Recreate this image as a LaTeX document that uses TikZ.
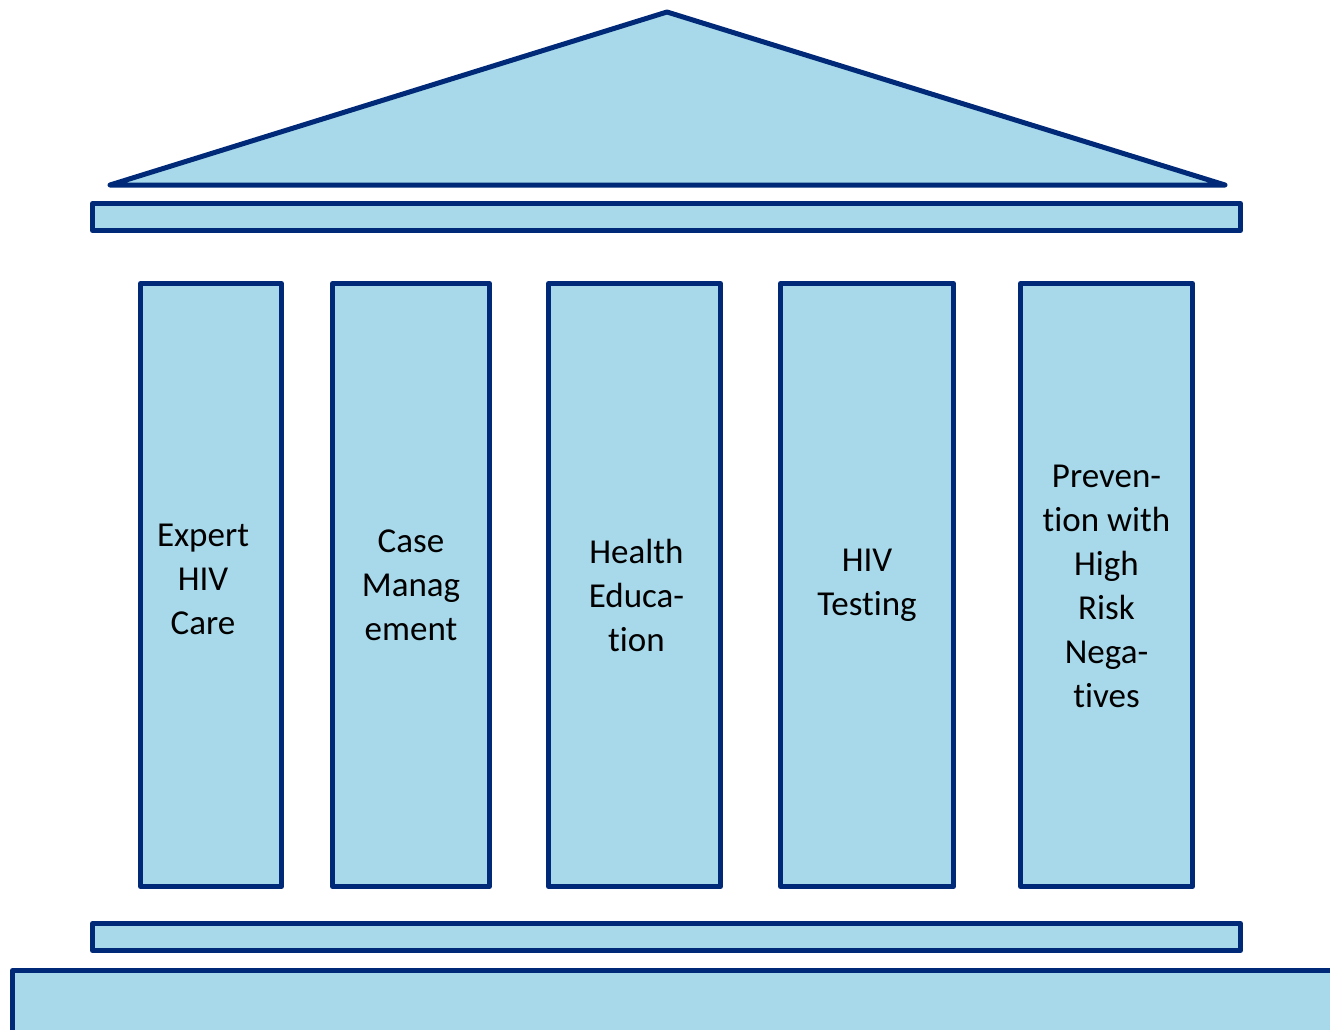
\documentclass[tikz,border=0pt]{standalone}
\usepackage{fontspec}
\setmainfont{Carlito}[Ligatures=NoCommon]
\definecolor{pillarfill}{HTML}{A7D9EA}
\definecolor{pillarline}{HTML}{002A78}
\tikzset{
  part/.style={fill=pillarfill, draw=pillarline, line width=5pt, line join=round},
  pillar/.style={part, rectangle, inner sep=0pt, minimum height=603pt},
  pillartext/.style={align=center, font=\fontsize{35}{44}\selectfont, text=black}
}
\begin{document}
\begin{tikzpicture}[x=1pt,y=-1pt]

    \useasboundingbox (0,0) rectangle (1330,1030);
    \clip (0,0) rectangle (1330,1030);

    % roof
    \coordinate (r0) at (110,185);
    \coordinate (r1) at (667,12);
    \coordinate (r2) at (1225,185);
    \filldraw[part] (r0) -- (r1) -- (r2) -- cycle;

    % beams and base
    \filldraw[part] (92.5,203.5) rectangle (1240.5,230.5);
    \filldraw[part] (92.5,923.5) rectangle (1240.5,950.5);
    \filldraw[part] (12.5,970.5) rectangle (1345,1045);

    % the five pillars
    \node[pillar, minimum width=141pt] (col1) at (211,585) {};
    \node[pillar, minimum width=157pt] (col2) at (411,585) {};
    \node[pillar, minimum width=172pt] (col3) at (634.5,585) {};
    \node[pillar, minimum width=173pt] (col4) at (867,585) {};
    \node[pillar, minimum width=172pt] (col5) at (1106.5,585) {};

    \node[pillartext] (t1) at ([xshift=-8pt,yshift=6pt]col1.center) {Expert\\HIV\\Care};
    \node[pillartext] (t2) at (col2.center) {Case\\Manag\\ement};
    \node[pillartext] (t3) at ([xshift=2pt,yshift=-10pt]col3.center) {Health\\Educa-\\tion};
    \node[pillartext] (t4) at (col4.center) {HIV\\Testing};
    \node[pillartext] (t5) at ([yshift=-1pt]col5.center) {Preven-\\tion with\\High\\Risk\\Nega-\\tives};

\end{tikzpicture}
\end{document}
